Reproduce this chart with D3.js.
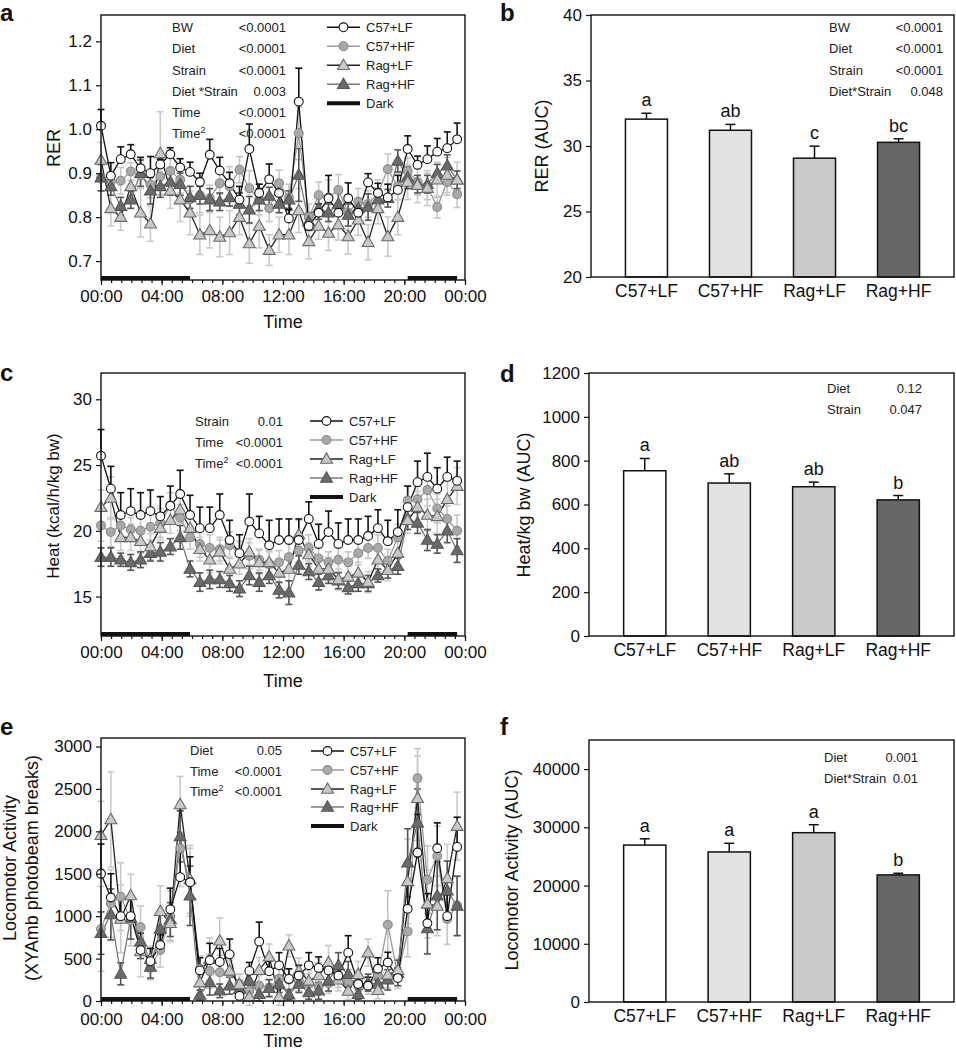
<!DOCTYPE html>
<html>
<head>
<meta charset="utf-8">
<script src="https://cdn.jsdelivr.net/npm/d3@7"></script>
<style>
  body { margin: 0; background: #fff; }
  svg { display: block; font-family: "Liberation Sans", Arial, sans-serif; }
</style>
</head>
<body>
<svg id="fig" width="956" height="1050"></svg>
<script>
// ---- data ----
const hours = [0, 0.65, 1.30, 1.96, 2.61, 3.26, 3.91, 4.57, 5.22, 5.87,
  6.52, 7.17, 7.83, 8.48, 9.13, 9.78, 10.43, 11.09, 11.74, 12.39,
  13.04, 13.70, 14.35, 15.00, 15.65, 16.30, 16.96, 17.61, 18.26, 18.91,
  19.57, 20.22, 20.87, 21.52, 22.17, 22.83, 23.48];
const timeTicks = [0, 4, 8, 12, 16, 20, 24];
const timeTickLabels = ["00:00", "04:00", "08:00", "12:00", "16:00", "20:00", "00:00"];
const darkPeriods = [[0, 5.87], [20.22, 23.48]];
const groups = ["C57+LF", "C57+HF", "Rag+LF", "Rag+HF"];

// RER (panel a)
const rerC57LF = [1.008, 0.894, 0.932, 0.943, 0.911, 0.900, 0.920, 0.943, 0.913, 0.903,
  0.880, 0.942, 0.906, 0.877, 0.840, 0.955, 0.855, 0.886, 0.855, 0.797,
  1.063, 0.780, 0.810, 0.843, 0.810, 0.843, 0.810, 0.879, 0.855, 0.845,
  0.862, 0.955, 0.919, 0.932, 0.949, 0.957, 0.977];
const rerC57HF = [0.889, 0.881, 0.883, 0.904, 0.895, 0.874, 0.892, 0.905, 0.885, 0.840,
  0.850, 0.843, 0.877, 0.870, 0.908, 0.866, 0.840, 0.820, 0.877, 0.845,
  0.991, 0.800, 0.850, 0.845, 0.862, 0.810, 0.835, 0.830, 0.855, 0.909,
  0.870, 0.905, 0.880, 0.870, 0.823, 0.880, 0.852];
const rerRagLF = [0.930, 0.820, 0.800, 0.870, 0.810, 0.785, 0.945, 0.860, 0.840, 0.810,
  0.760, 0.770, 0.755, 0.765, 0.800, 0.740, 0.780, 0.725, 0.760, 0.760,
  0.815, 0.745, 0.780, 0.764, 0.783, 0.756, 0.794, 0.743, 0.820, 0.756,
  0.800, 0.880, 0.873, 0.866, 0.885, 0.896, 0.885];
const rerRagHF = [0.890, 0.870, 0.825, 0.840, 0.900, 0.860, 0.870, 0.880, 0.875, 0.845,
  0.850, 0.840, 0.835, 0.845, 0.830, 0.817, 0.840, 0.848, 0.830, 0.840,
  0.896, 0.790, 0.820, 0.810, 0.830, 0.805, 0.820, 0.823, 0.840, 0.843,
  0.928, 0.890, 0.875, 0.875, 0.900, 0.917, 0.885];
const rerSemC57LF = [0.037, 0.030, 0.028, 0.022, 0.025, 0.038, 0.012, 0.015, 0.020, 0.022,
  0.020, 0.035, 0.030, 0.025, 0.030, 0.057, 0.020, 0.035, 0.025, 0.020,
  0.076, 0.020, 0.020, 0.052, 0.020, 0.035, 0.020, 0.020, 0.022, 0.030,
  0.033, 0.030, 0.020, 0.030, 0.030, 0.037, 0.037];
const rerSemC57HF = [0.030, 0.020, 0.030, 0.020, 0.025, 0.030, 0.040, 0.035, 0.030, 0.030,
  0.040, 0.030, 0.025, 0.045, 0.030, 0.040, 0.035, 0.030, 0.030, 0.030,
  0.060, 0.030, 0.030, 0.040, 0.035, 0.040, 0.030, 0.030, 0.030, 0.035,
  0.030, 0.030, 0.030, 0.030, 0.025, 0.030, 0.030];
const rerSemRagLF = [0.040, 0.040, 0.030, 0.035, 0.055, 0.040, 0.095, 0.040, 0.050, 0.050,
  0.045, 0.040, 0.045, 0.050, 0.040, 0.045, 0.050, 0.035, 0.040, 0.045,
  0.050, 0.040, 0.030, 0.040, 0.035, 0.040, 0.035, 0.040, 0.035, 0.045,
  0.040, 0.040, 0.040, 0.040, 0.040, 0.040, 0.040];
const rerSemRagHF = [0.030, 0.020, 0.020, 0.020, 0.030, 0.030, 0.025, 0.030, 0.025, 0.025,
  0.020, 0.025, 0.020, 0.020, 0.025, 0.030, 0.025, 0.020, 0.020, 0.020,
  0.060, 0.020, 0.025, 0.020, 0.025, 0.025, 0.020, 0.030, 0.025, 0.020,
  0.025, 0.025, 0.020, 0.020, 0.020, 0.025, 0.020];

// Heat (panel c)
const heatC57LF = [25.7, 23.2, 21.2, 21.5, 21.2, 21.5, 21.1, 21.9, 22.8, 21.2,
  20.2, 20.2, 21.2, 19.3, 18.3, 20.7, 19.8, 18.9, 19.3, 19.3,
  19.3, 20.9, 19.0, 19.9, 19.0, 19.3, 19.3, 19.6, 20.2, 19.2,
  19.9, 21.8, 23.7, 24.1, 23.2, 24.1, 23.8];
const heatC57HF = [20.4, 19.9, 20.4, 20.1, 20.0, 20.3, 20.6, 21.9, 21.0, 19.5,
  19.0, 18.7, 18.6, 18.9, 18.3, 18.1, 17.8, 17.5, 17.6, 18.0,
  18.5, 18.7, 17.9, 17.6, 17.8, 17.6, 18.3, 18.7, 18.7, 17.7,
  19.5, 22.3, 22.4, 23.1, 21.7, 20.9, 20.0];
const heatRagLF = [21.8, 22.5, 19.5, 19.5, 19.2, 18.8, 20.2, 20.8, 21.6, 20.2,
  18.6, 17.8, 18.4, 17.1, 17.5, 18.4, 17.6, 17.6, 16.8, 17.1,
  19.7, 18.2, 17.1, 17.1, 16.3, 16.5, 16.8, 16.1, 17.8, 17.0,
  18.3, 20.8, 21.8, 21.2, 21.1, 22.4, 23.4];
const heatRagHF = [18.0, 18.0, 17.8, 17.6, 17.8, 18.3, 18.4, 18.8, 19.5, 17.1,
  16.1, 16.3, 16.3, 16.0, 15.6, 16.6, 16.1, 16.6, 15.5, 15.3,
  17.4, 16.9, 16.1, 16.6, 16.2, 15.7, 16.0, 16.0, 16.6, 17.0,
  17.3, 20.9, 20.6, 19.3, 19.0, 20.0, 18.5];
const heatSemC57LF = [2.0, 1.7, 1.7, 1.7, 1.7, 1.6, 1.5, 1.5, 1.8, 1.5,
  1.6, 1.6, 1.6, 1.5, 1.4, 2.1, 1.3, 1.9, 1.6, 1.6,
  1.6, 1.3, 1.5, 1.6, 1.6, 1.6, 1.6, 1.5, 1.4, 1.6,
  1.7, 1.6, 1.6, 1.8, 1.6, 1.5, 1.5];
const heatSemC57HF = [1.2, 1.1, 1.0, 0.9, 1.0, 1.0, 1.1, 1.0, 1.0, 0.9,
  1.0, 1.0, 0.9, 1.0, 0.9, 1.0, 0.8, 0.9, 0.9, 1.0,
  0.9, 1.0, 0.8, 0.8, 0.9, 0.8, 0.9, 0.8, 1.0, 0.9,
  1.0, 1.1, 1.0, 1.2, 1.1, 1.0, 1.2];
const heatSemRagLF = [1.3, 1.6, 1.0, 1.0, 0.9, 1.0, 0.9, 1.0, 1.0, 1.0,
  0.9, 1.0, 0.9, 0.9, 0.8, 1.0, 0.9, 0.9, 0.8, 0.9,
  1.1, 0.9, 0.8, 0.9, 0.8, 0.8, 0.8, 0.8, 0.9, 0.8,
  0.9, 1.0, 1.2, 1.2, 1.3, 1.4, 1.4];
const heatSemRagHF = [0.7, 0.7, 0.5, 0.6, 0.6, 0.6, 0.7, 0.6, 0.9, 0.6,
  0.7, 0.7, 0.6, 0.6, 0.6, 0.7, 0.7, 0.6, 0.6, 0.9,
  0.7, 0.6, 0.6, 0.6, 0.6, 0.5, 0.6, 0.6, 0.5, 0.6,
  0.6, 0.8, 0.8, 0.8, 0.7, 0.9, 0.9];

// Locomotor activity (panel e)
const locoC57LF = [1500, 1220, 1000, 1000, 600, 470, 660, 1080, 1460, 1400,
  360, 480, 460, 550, 60, 355, 700, 350, 420, 260,
  300, 420, 390, 360, 300, 570, 200, 180, 380, 454,
  270, 1086, 1750, 916, 1800, 1000, 1816];
const locoC57HF = [850, 1150, 1230, 950, 870, 400, 600, 1000, 1800, 1400,
  380, 350, 340, 330, 200, 120, 180, 160, 260, 250,
  240, 200, 170, 210, 280, 220, 240, 180, 300, 900,
  300, 820, 2625, 1430, 1710, 967, 1125];
const locoRagLF = [1954, 2140, 967, 1243, 584, 493, 1058, 916, 2317, 1433,
  217, 493, 710, 355, 197, 47, 363, 521, 47, 651,
  355, 237, 300, 454, 250, 118, 316, 570, 126, 308,
  363, 1410, 2390, 1145, 1120, 1445, 2061];
const locoRagHF = [800, 1020, 320, 980, 700, 400, 850, 960, 1940, 1240,
  70, 220, 120, 180, 140, 237, 80, 150, 200, 75,
  200, 100, 120, 237, 420, 316, 80, 217, 200, 250,
  330, 1630, 2100, 855, 1240, 1300, 1120];
const locoSemC57LF = [350, 280, 250, 230, 200, 150, 120, 250, 300, 300,
  150, 200, 160, 180, 100, 100, 230, 120, 150, 120,
  120, 150, 130, 100, 120, 200, 100, 100, 130, 120,
  120, 300, 450, 350, 300, 250, 350];
const locoSemC57HF = [500, 400, 400, 300, 250, 150, 200, 300, 450, 400,
  150, 200, 200, 150, 120, 100, 120, 100, 120, 120,
  120, 120, 100, 120, 120, 150, 120, 100, 120, 400,
  150, 300, 350, 400, 350, 300, 350];
const locoSemRagLF = [400, 560, 400, 250, 300, 150, 300, 200, 330, 400,
  200, 250, 270, 150, 120, 100, 150, 150, 100, 130,
  150, 120, 150, 200, 130, 100, 150, 160, 100, 150,
  130, 500, 500, 400, 350, 400, 400];
const locoSemRagHF = [250, 300, 130, 250, 200, 130, 200, 200, 300, 350,
  60, 150, 80, 100, 100, 120, 80, 100, 100, 60,
  100, 80, 100, 120, 150, 150, 60, 100, 120, 120,
  150, 400, 400, 300, 400, 350, 350];

// AUC bars (panels b, d, f)
const rerAuc = [32.05, 31.2, 29.07, 30.28];
const rerAucSem = [0.45, 0.45, 0.92, 0.27];
const rerAucLetters = ["a", "ab", "c", "bc"];
const heatAuc = [754, 698, 681, 621];
const heatAucSem = [56, 42, 21, 20];
const heatAucLetters = ["a", "ab", "ab", "b"];
const locoAuc = [26950, 25770, 29080, 21830];
const locoAucSem = [1080, 1490, 1370, 280];
const locoAucLetters = ["a", "a", "a", "b"];

// ---- styles ----
const FONT = '"Liberation Sans", Arial, sans-serif';
const barFills = ["#ffffff", "#e1e2e4", "#c9cacc", "#666769"];
const styles = {
  "C57+LF": { shape: "circle", fill: "#ffffff", stroke: "#111", line: "#111", err: "#111", both: false },
  "C57+HF": { shape: "circle", fill: "#a9a9a9", stroke: "#8a8a8a", line: "#9a9a9a", err: "#c6c6c6", both: true },
  "Rag+LF": { shape: "triangle", fill: "#c8c8c8", stroke: "#6a6a6a", line: "#222", err: "#cacaca", both: true },
  "Rag+HF": { shape: "triangle", fill: "#6a6a6a", stroke: "#555", line: "#7a7a7a", err: "#555", both: true }
};
const drawOrder = ["C57+HF", "Rag+LF", "Rag+HF", "C57+LF"];
const markerOrder = ["C57+HF", "Rag+HF", "Rag+LF", "C57+LF"];

const svg = d3.select("#fig");
svg.append("rect").attr("width", 956).attr("height", 1050).attr("fill", "#fff");

function marker(g, name, cx, cy) {
  const s = styles[name];
  if (s.shape === "circle") {
    g.append("circle").attr("cx", cx).attr("cy", cy).attr("r", 4.4)
      .attr("fill", s.fill).attr("stroke", s.stroke).attr("stroke-width", 1.1);
  } else {
    g.append("path").attr("d", d3.symbol(d3.symbolTriangle, 62)())
      .attr("transform", `translate(${cx},${cy + 0.8})`)
      .attr("fill", s.fill).attr("stroke", s.stroke).attr("stroke-width", 1.1);
  }
}

function styleAxis(a, size) {
  a.attr("font-family", FONT).attr("font-size", size);
  a.selectAll("text").attr("fill", "#111");
  a.selectAll("line").attr("stroke", "#111").attr("stroke-width", 1.2);
}

function panelLabel(txt, x, y) {
  svg.append("text").attr("x", x).attr("y", y).attr("font-size", 24)
    .attr("font-weight", "bold").attr("fill", "#111").text(txt);
}

function yTitle(lines, x, y, size) {
  lines.forEach((t, k) => {
    svg.append("text").attr("transform", `translate(${x[k]},${y}) rotate(-90)`)
      .attr("text-anchor", "middle").attr("font-size", size).attr("fill", "#111").text(t);
  });
}

function statsTable(rows, xl, xr, ys) {
  rows.forEach((r, k) => {
    const t = svg.append("text").attr("x", xl).attr("y", ys[k]).attr("font-size", 13).attr("fill", "#222");
    t.append("tspan").text(r[0]);
    if (r[2]) t.append("tspan").attr("dy", -5).attr("font-size", 9).text(r[2]);
    svg.append("text").attr("x", xr).attr("y", ys[k]).attr("font-size", 13)
      .attr("text-anchor", "end").attr("fill", "#222").text(r[1]);
  });
}

function linePanel(o) {
  const g = svg.append("g");
  const x = d3.scaleLinear().domain([0, 24]).range([o.x0, o.x1]);
  const y = d3.scaleLinear().domain(o.yDomain).range([o.y1, o.y0]);

  // error bars
  drawOrder.forEach(name => {
    const s = styles[name], vals = o.series[name], sem = o.sems[name];
    vals.forEach((v, i) => {
      const cx = x(hours[i]);
      const lo = s.both ? y(v - sem[i]) : y(v), hi = y(v + sem[i]);
      g.append("line").attr("x1", cx).attr("x2", cx).attr("y1", lo).attr("y2", hi)
        .attr("stroke", s.err).attr("stroke-width", 1.6);
      g.append("line").attr("x1", cx - 3.5).attr("x2", cx + 3.5).attr("y1", hi).attr("y2", hi)
        .attr("stroke", s.err).attr("stroke-width", 1.6);
      if (s.both) {
        g.append("line").attr("x1", cx - 3.5).attr("x2", cx + 3.5).attr("y1", lo).attr("y2", lo)
          .attr("stroke", s.err).attr("stroke-width", 1.6);
      }
    });
  });

  // lines
  drawOrder.forEach(name => {
    const line = d3.line().x((d, i) => x(hours[i])).y(d => y(d));
    g.append("path").datum(o.series[name]).attr("d", line).attr("fill", "none")
      .attr("stroke", styles[name].line).attr("stroke-width", 1.3);
  });

  // markers
  markerOrder.forEach(name => {
    o.series[name].forEach((v, i) => marker(g, name, x(hours[i]), y(v)));
  });

  // dark periods
  darkPeriods.forEach(p => {
    g.append("line").attr("x1", x(p[0])).attr("x2", x(p[1]))
      .attr("y1", o.y1 - 2).attr("y2", o.y1 - 2).attr("stroke", "#111").attr("stroke-width", 4);
  });

  // frame
  g.append("rect").attr("x", o.x0).attr("y", o.y0).attr("width", o.x1 - o.x0).attr("height", o.y1 - o.y0)
    .attr("fill", "none").attr("stroke", "#111").attr("stroke-width", 1.4);

  // axes
  const ya = g.append("g").attr("transform", `translate(${o.x0},0)`)
    .call(d3.axisLeft(y).tickValues(o.yTicks).tickFormat(o.yFmt).tickSize(5).tickPadding(4));
  ya.select(".domain").remove();
  styleAxis(ya, 17);

  const xm = g.append("g").attr("transform", `translate(0,${o.y1})`)
    .call(d3.axisBottom(x).tickValues(d3.range(0, 24.01, 2 / 3)).tickFormat("").tickSize(3));
  xm.select(".domain").remove();
  styleAxis(xm, 10);

  const xa = g.append("g").attr("transform", `translate(0,${o.y1})`)
    .call(d3.axisBottom(x).tickValues(timeTicks).tickFormat((d, i) => timeTickLabels[i])
      .tickSize(5).tickPadding(o.xPad || 5));
  xa.select(".domain").remove();
  styleAxis(xa, 17);

  svg.append("text").attr("x", x(12)).attr("y", o.timeY).attr("text-anchor", "middle")
    .attr("font-size", 18).attr("fill", "#111").text("Time");

  // legend
  groups.concat(["Dark"]).forEach((name, k) => {
    const cy = o.legY[k];
    if (name === "Dark") {
      g.append("line").attr("x1", o.legX).attr("x2", o.legX + 33).attr("y1", cy).attr("y2", cy)
        .attr("stroke", "#111").attr("stroke-width", 4);
    } else {
      g.append("line").attr("x1", o.legX).attr("x2", o.legX + 33).attr("y1", cy).attr("y2", cy)
        .attr("stroke", styles[name].line).attr("stroke-width", 1.5);
      marker(g, name, o.legX + 16.5, cy);
    }
    g.append("text").attr("x", o.legX + 39).attr("y", cy + 5).attr("font-size", 13)
      .attr("fill", "#222").text(name);
  });
}

function barPanel(o) {
  const g = svg.append("g");
  const x = d3.scaleBand().domain(groups).range([o.x0, o.x1]).paddingInner(0.5).paddingOuter(0.41);
  const y = d3.scaleLinear().domain(o.yDomain).range([o.y1, o.y0]);

  groups.forEach((c, i) => {
    const bx = x(c), bw = x.bandwidth(), cx = bx + bw / 2;
    const top = y(o.values[i]), eTop = y(o.values[i] + o.sems[i]);
    g.append("line").attr("x1", cx).attr("x2", cx).attr("y1", top).attr("y2", eTop)
      .attr("stroke", "#111").attr("stroke-width", 1.5);
    g.append("line").attr("x1", cx - 5).attr("x2", cx + 5).attr("y1", eTop).attr("y2", eTop)
      .attr("stroke", "#111").attr("stroke-width", 1.5);
    g.append("rect").attr("x", bx).attr("y", top).attr("width", bw).attr("height", o.y1 - top)
      .attr("fill", barFills[i]).attr("stroke", "#111").attr("stroke-width", 1.5);
    g.append("text").attr("x", cx).attr("y", eTop - 7).attr("text-anchor", "middle")
      .attr("font-size", 18).attr("fill", "#111").text(o.letters[i]);
  });

  g.append("rect").attr("x", o.x0).attr("y", o.y0).attr("width", o.x1 - o.x0).attr("height", o.y1 - o.y0)
    .attr("fill", "none").attr("stroke", "#111").attr("stroke-width", 1.4);

  const ya = g.append("g").attr("transform", `translate(${o.x0},0)`)
    .call(d3.axisLeft(y).tickValues(o.yTicks).tickFormat(d3.format("d")).tickSize(5).tickPadding(4));
  ya.select(".domain").remove();
  styleAxis(ya, 17);

  const xa = g.append("g").attr("transform", `translate(0,${o.y1})`)
    .call(d3.axisBottom(x).tickSize(0).tickPadding(8));
  xa.select(".domain").remove();
  styleAxis(xa, 17.5);
}

// ---- panel a ----
panelLabel("a", 0, 21);
linePanel({
  x0: 101, x1: 465, y0: 15, y1: 280, yDomain: [0.657, 1.26],
  yTicks: [0.7, 0.8, 0.9, 1.0, 1.1, 1.2], yFmt: d3.format(".1f"), timeY: 328,
  series: { "C57+LF": rerC57LF, "C57+HF": rerC57HF, "Rag+LF": rerRagLF, "Rag+HF": rerRagHF },
  sems: { "C57+LF": rerSemC57LF, "C57+HF": rerSemC57HF, "Rag+LF": rerSemRagLF, "Rag+HF": rerSemRagHF },
  legX: 327, legY: [27.3, 46.3, 65.3, 84.3, 103.3]
});
yTitle(["RER"], [60], 148, 18);
statsTable([["BW", "<0.0001"], ["Diet", "<0.0001"], ["Strain", "<0.0001"], ["Diet *Strain", "0.003"],
  ["Time", "<0.0001"], ["Time", "<0.0001", "2"]], 172, 286, [32, 53, 75, 96, 117, 138]);

// ---- panel b ----
panelLabel("b", 500, 21);
barPanel({
  x0: 591, x1: 954, y0: 15, y1: 277, yDomain: [20, 40], yTicks: [20, 25, 30, 35, 40],
  values: rerAuc, sems: rerAucSem, letters: rerAucLetters
});
yTitle(["RER (AUC)"], [548], 146, 18);
statsTable([["BW", "<0.0001"], ["Diet", "<0.0001"], ["Strain", "<0.0001"], ["Diet*Strain", "0.048"]],
  829, 943, [32, 53, 75, 96]);

// ---- panel c ----
panelLabel("c", 0, 381);
linePanel({
  x0: 101, x1: 465, y0: 373, y1: 636, yDomain: [12, 32],
  yTicks: [15, 20, 25, 30], yFmt: d3.format("d"), timeY: 687,
  series: { "C57+LF": heatC57LF, "C57+HF": heatC57HF, "Rag+LF": heatRagLF, "Rag+HF": heatRagHF },
  sems: { "C57+LF": heatSemC57LF, "C57+HF": heatSemC57HF, "Rag+LF": heatSemRagLF, "Rag+HF": heatSemRagHF },
  legX: 310, legY: [421, 440, 459, 478, 497]
});
yTitle(["Heat (kcal/h/kg bw)"], [59], 506, 17);
statsTable([["Strain", "0.01"], ["Time", "<0.0001"], ["Time", "<0.0001", "2"]], 195, 283, [426, 447, 468]);

// ---- panel d ----
panelLabel("d", 500, 382);
barPanel({
  x0: 589, x1: 954, y0: 373, y1: 636, yDomain: [0, 1200], yTicks: [0, 200, 400, 600, 800, 1000, 1200],
  values: heatAuc, sems: heatAucSem, letters: heatAucLetters
});
yTitle(["Heat/kg bw (AUC)"], [530], 505, 18);
statsTable([["Diet", "0.12"], ["Strain", "0.047"]], 827, 922, [393, 414]);

// ---- panel e ----
panelLabel("e", 0, 735);
linePanel({
  x0: 101, x1: 465, y0: 738, y1: 1001, yDomain: [0, 3100],
  yTicks: [0, 500, 1000, 1500, 2000, 2500, 3000], yFmt: d3.format("d"), timeY: 1047, xPad: 7,
  series: { "C57+LF": locoC57LF, "C57+HF": locoC57HF, "Rag+LF": locoRagLF, "Rag+HF": locoRagHF },
  sems: { "C57+LF": locoSemC57LF, "C57+HF": locoSemC57HF, "Rag+LF": locoSemRagLF, "Rag+HF": locoSemRagHF },
  legX: 311, legY: [751, 770, 789, 807, 826]
});
yTitle(["Locomotor Activity", "(XYAmb photobeam breaks)"], [16, 38], 868, 18);
statsTable([["Diet", "0.05"], ["Time", "<0.0001"], ["Time", "<0.0001", "2"]], 190, 282, [755, 776, 796]);

// ---- panel f ----
panelLabel("f", 500, 735);
barPanel({
  x0: 589, x1: 954, y0: 740, y1: 1002, yDomain: [0, 45000], yTicks: [0, 10000, 20000, 30000, 40000],
  values: locoAuc, sems: locoAucSem, letters: locoAucLetters
});
yTitle(["Locomotor Activity (AUC)"], [518], 870, 18);
statsTable([["Diet", "0.001"], ["Diet*Strain", "0.01"]], 824, 918, [762, 783]);
</script>
</body>
</html>
